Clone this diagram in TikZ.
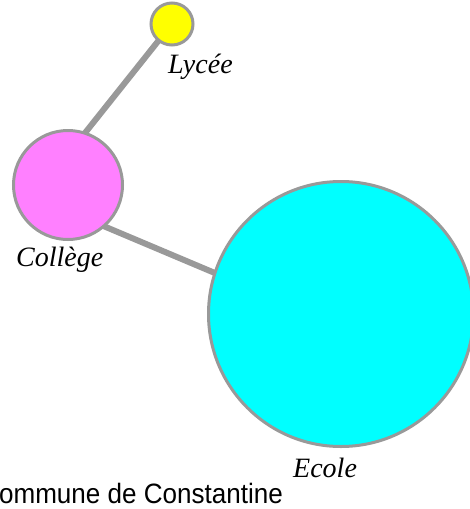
\documentclass[tikz,border=0pt]{standalone}
\usepackage{fontspec}
\setmainfont{Liberation Serif}
\newfontfamily\titlefont{Liberation Sans}
\usepackage{xcolor}
\usepackage{tikz}
\definecolor{rimgray}{HTML}{999999}
\definecolor{lyceecol}{HTML}{FFFF00}
\definecolor{collegecol}{HTML}{FF80FF}
\definecolor{ecolecol}{HTML}{00FFFF}
\tikzset{
every picture/.style={x=1pt, y=-1pt},
%%%%%%%%%%  Node styles
school/.style={circle, draw=rimgray, line width=3pt, inner sep=0pt,
               outer sep=0pt, minimum size=#1},
school_label/.style={anchor=base west, inner sep=0pt,
                     font=\fontsize{28}{28}\selectfont\itshape},
title_label/.style={anchor=base east, inner sep=0pt, xscale=0.93,
                    font=\fontsize{28}{28}\selectfont\titlefont},
%%%% line styles
link/.style={line width=6pt, draw=rimgray}
}

\begin{document}
\begin{tikzpicture}
\useasboundingbox (0,0) rectangle (470,509);
%%circles
\node[school=42pt, fill=lyceecol] (lycee) at (172,24) {};
\node[school=109pt, fill=collegecol] (college) at (68,185) {};
\node[school=265pt, fill=ecolecol] (ecole) at (341,314) {};
%%links
\draw[link] (lycee.231) -- (college.72);
\draw[link] (college.311) -- (ecole.162);
%%labels
\node[school_label] (lycee_txt) at (168,73) {Lycée};
\node[school_label] (college_txt) at (16,266) {Collège};
\node[school_label] (ecole_txt) at (293,477) {Ecole};
\node[title_label] (title) at (283,503) {Commune de Constantine};
\end{tikzpicture}
\end{document}
